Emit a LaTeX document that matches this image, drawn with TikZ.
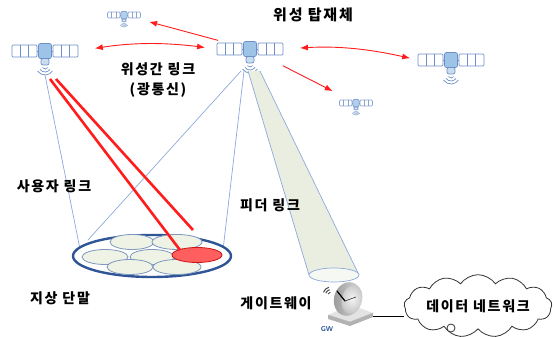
\documentclass[tikz,border=0pt]{standalone}
\usepackage{fontspec}
\usepackage{tikz}
\usetikzlibrary{arrows.meta,positioning,calc,shapes.geometric,shapes.symbols}
\newfontfamily\kr[LetterSpace=12]{Noto Sans CJK KR}
\definecolor{cLink}{HTML}{FF1C1C}
\definecolor{cSat}{HTML}{6F8FC8}
\definecolor{cSatBody}{HTML}{9DC3E6}
\definecolor{cSatBus}{HTML}{C9DDF1}
\definecolor{cRay}{HTML}{8EA9DB}
\definecolor{cFoot}{HTML}{2F5597}
\definecolor{cCell}{HTML}{EFF3E6}
\definecolor{cCellLine}{HTML}{7F98BD}
\definecolor{cHot}{HTML}{FF5F5F}
\definecolor{cCone}{HTML}{E9EEE1}
\definecolor{cGW}{HTML}{1F4E99}
\tikzset{
  satline/.style={draw=cSat, line width=0.7pt},
  sat/.pic={
    \foreach \s in {-1,1} {
      \draw[satline, fill=white, rounded corners=1.2pt] (\s*8,-6) rectangle (\s*33,6);
      \draw[satline] (\s*16.3,-6) -- (\s*16.3,6) (\s*24.7,-6) -- (\s*24.7,6);
      \draw[satline] (\s*6.5,0) -- (\s*8,0);
    }
    \draw[satline, fill=cSatBus, rounded corners=2pt] (-4,-14) rectangle (4,-7.5);
    \draw[satline, fill=cSatBody, rounded corners=2pt] (-6.5,-7.5) rectangle (6.5,7.5);
    \foreach \r in {3,6,9} \draw[satline, line cap=round] (0,-15) ++(215:\r) arc (215:325:\r);
    \coordinate (-c) at (0,0);
    \coordinate (-l) at (-33,0);
    \coordinate (-r) at (33,0);
    \coordinate (-ant) at (0,-24);
  },
  isl/.style={{Latex[length=8pt,width=6pt]}-{Latex[length=8pt,width=6pt]}, cLink, line width=0.9pt},
  hop/.style={-{Latex[length=8pt,width=6pt]}, cLink, line width=0.9pt},
  beam/.style={cLink, line width=2.6pt},
  ray/.style={cRay, line width=0.7pt},
  cell/.style={draw=cCellLine, line width=0.8pt, fill=cCell},
  lbl/.style={font=\kr\bfseries\fontsize{14}{16}\selectfont},
}

\begin{document}
\begin{tikzpicture}[x=1pt, y=1pt, >=Latex]
  \useasboundingbox (0,0) rectangle (555,337);
  \pic (s0) at (250,288) {sat};
  \pic (s1) at (45,286) {sat};
  \pic (s3) at (451,277) {sat};
  \pic[scale=0.5, opacity=0.8] (st) at (124,322) {sat};
  \pic[scale=0.5, opacity=0.8] (sl) at (356,234) {sat};

  \draw[isl, shorten <=17pt, shorten >=12pt] (s1-r) to[bend left=8] (s0-l);
  \draw[isl, shorten <=17pt, shorten >=8pt] (s0-r) to[bend left=8] (s3-l);
  \draw[hop, shorten <=33pt, shorten >=26pt] (s0-c) -- (st-c);
  \draw[hop, shorten <=37pt, shorten >=26pt] (s0-c) -- (sl-c);

  \coordinate (gwBeam) at (334,62);
  \fill[cCone] ($(s0-ant)+(-2,2)$) -- ($(gwBeam)+(-25,0)$) arc (180:360:25 and 7) -- ($(s0-ant)+(10,2)$) -- cycle;
  \draw[ray] ($(s0-ant)+(-2,2)$) -- ($(gwBeam)+(-25,0)$) ($(s0-ant)+(10,2)$) -- ($(gwBeam)+(25,0)$);
  \draw[ray, fill=cCone!40] (gwBeam) ellipse (25 and 7);

  \coordinate (fpL) at (80,88);
  \coordinate (fpM) at (88,97);
  \coordinate (fpR) at (223,87);
  \draw[ray] (s1-ant) -- (fpL);
  \draw[ray] ($(s0-ant)+(-9,2)$) -- (fpM);
  \draw[ray] ($(s0-ant)+(-6,2)$) -- (fpR);

  \draw[cFoot, line width=2.4pt, fill=white] (152,81) ellipse (79 and 21);
  \foreach \x/\y/\a in {132/95/22, 177/95/25, 105/80/23, 152/80/22, 130/70/23, 177/70/24}
    \draw[cell] (\x,\y) ellipse [x radius=\a, y radius=7.5];
  \draw[draw=cLink!80!black, line width=0.8pt, fill=cHot] (197,82) ellipse (25 and 7.5);

  \coordinate (hitA) at (180,87);
  \coordinate (hitB) at (193,107);
  \draw[beam] ($(s1-ant)+(5,-4)$) -- (hitA);
  \draw[beam] ($(s1-ant)+(11,-4)$) -- (hitB);

  \fill[gray!60] (328,22) -- (350,15) -- (373,24) -- (373,20) -- (350,11) -- (328,18) -- cycle;
  \fill[gray!22] (328,22) -- (350,15) -- (373,24) -- (351,32) -- cycle;
  \draw[gray!65, line width=0.4pt] (328,22) -- (350,15) -- (373,24);
  \shade[left color=gray!80, right color=gray!25, rotate around={-15:(348,38)}] (348,38) ellipse (14 and 17);
  \shade[inner color=gray!8, outer color=gray!45, rotate around={-15:(351,38)}] (352,38) ellipse (10 and 14.5);
  \draw[black, line width=1.2pt, line cap=round] (337,46) -- (345,36);
  \draw[black!80, line width=0.6pt] (345,36) -- (356,40);
  \foreach \r in {3,5.5,8} \draw[black!70, line width=1pt] (331,42) ++(105:\r) arc (105:160:\r);
  \coordinate (gw) at (373,21);
  \node[font=\sffamily\bfseries\fontsize{7}{8}\selectfont, text=cGW] (gwtag) at (327,8) {GW};

  \node[cloud, draw=black!80, line width=0.8pt, fill=white, cloud puffs=13, cloud puff arc=110, aspect=3.2,
        minimum width=146pt, minimum height=48pt, inner sep=0pt, lbl] (net) at (478,31) {데이터 네트워크};
  \draw[black, line width=0.8pt] (gw) -- (gw -| net.west);
  \draw[black!80, line width=0.8pt, fill=white] (451,9) circle (4);

  \node[lbl, font=\kr\bfseries\fontsize{15}{17}\selectfont] (title) at (313,322) {위성 탑재체};
  \node[lbl] (islText) at (158,268) {위성간 링크};
  \node[lbl] (islSub) at (158,247) {(광통신)};
  \node[lbl] (userText) at (54,151) {사용자 링크};
  \node[lbl] (feedText) at (270,132) {피더 링크};
  \node[lbl] (termText) at (60,39) {지상 단말};
  \node[lbl] (gwText) at (276,34) {게이트웨이};
\end{tikzpicture}
\end{document}
